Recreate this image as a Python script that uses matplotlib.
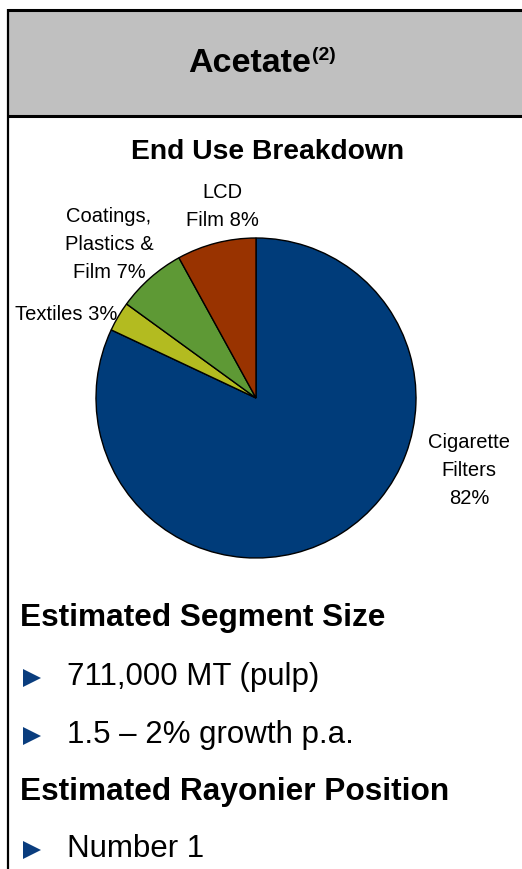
import matplotlib.pyplot as plt
from matplotlib.patches import Rectangle

plt.rcParams['font.family'] = ['Liberation Sans', 'DejaVu Sans']

# end use shares, clockwise from 12 o'clock
uses = ["Cigarette\nFilters\n", "Textiles ", "Coatings,\nPlastics &\nFilm ", "LCD\nFilm "]
shares = [82, 3, 7, 8]
colors = ["#003C7A", "#B3BB20", "#5E9935", "#993300"]

segment_size = ["711,000 MT (pulp)", "1.5 \u2013 2% growth p.a."]
position = ["Number 1"]

W, H = 522, 869
fig = plt.figure(figsize=(W / 100, H / 100), dpi=100)

# background axes in pixel coordinates for the panel frame and text
bg = fig.add_axes([0, 0, 1, 1])
bg.set_xlim(0, W)
bg.set_ylim(H, 0)
bg.axis("off")

bg.add_patch(Rectangle((8, 10), W, 106, facecolor="#C0C0C0", edgecolor="none"))
bg.plot([8, W], [10, 10], color="black", lw=2.2, solid_capstyle="butt")
bg.plot([8, W], [116, 116], color="black", lw=2.2, solid_capstyle="butt")
bg.plot([8, 8], [9, H], color="black", lw=1.6, solid_capstyle="butt")

bg.text(311, 64, "Acetate", ha="right", va="center", fontsize=24.5, fontweight="bold")
bg.text(312, 56, "(2)", ha="left", va="center", fontsize=14, fontweight="bold")

bg.text(268, 152, "End Use Breakdown", ha="center", va="center", fontsize=20.3, fontweight="bold")

# pie
cx, cy, r = 256, 398, 160
pax = fig.add_axes([(cx - r) / W, (H - cy - r) / H, 2 * r / W, 2 * r / H])
pax.pie(shares, colors=colors, startangle=90, counterclock=False,
        wedgeprops=dict(edgecolor="black", linewidth=1.0))
pax.set_xlim(-1, 1)
pax.set_ylim(-1, 1)

lab_font = 14.5
label_pos = [(469, 471), (66, 315), (109, 245), (222, 206)]
for name, val, (lx, ly) in zip(uses, shares, label_pos):
    bg.text(lx, ly, f"{name}{val}%", ha="center", va="center", fontsize=lab_font,
            multialignment="center", linespacing=1.6)

# text blocks below the pie
bg.text(20, 618, "Estimated Segment Size", ha="left", va="center", fontsize=22.8, fontweight="bold")
for i, line in enumerate(segment_size):
    y = 677 + i * 58
    bg.plot([32], [y + 1], marker=">", color="#0A3D7E", markersize=13, markeredgewidth=0)
    bg.text(67, y, line, ha="left", va="center", fontsize=22.5)

bg.text(20, 792, "Estimated Rayonier Position", ha="left", va="center", fontsize=22.8, fontweight="bold")
for i, line in enumerate(position):
    y = 849 + i * 58
    bg.plot([32], [y + 1], marker=">", color="#0A3D7E", markersize=13, markeredgewidth=0)
    bg.text(67, y, line, ha="left", va="center", fontsize=22.5)

fig.savefig("out.png", dpi=100)
